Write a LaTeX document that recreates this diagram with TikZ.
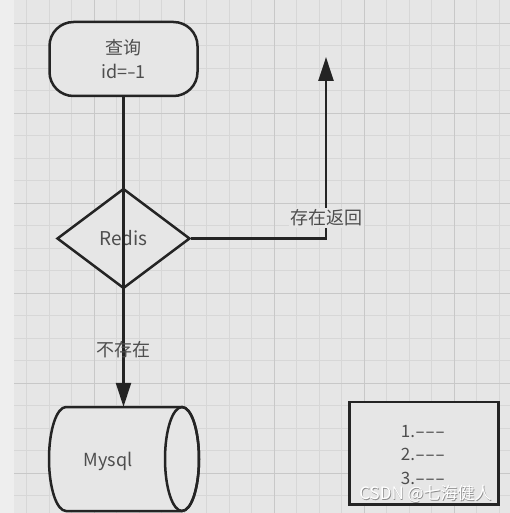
\documentclass[tikz,border=0pt]{standalone}
\usepackage{fontspec}
\setmainfont{Noto Sans CJK SC}
\usetikzlibrary{arrows.meta,shapes.geometric}
\definecolor{bg}{RGB}{230,230,230}
\definecolor{strip}{RGB}{238,238,238}
\definecolor{gridminor}{RGB}{215,215,215}
\definecolor{gridmajor}{RGB}{200,200,200}
\definecolor{ink}{RGB}{36,36,36}
\definecolor{txt}{RGB}{78,78,78}
\newcommand{\longhy}{\scalebox{1.7}[1]{-}}
\tikzset{
  shapebox/.style={draw=ink, line width=2.5pt, fill=bg, inner sep=0pt, text=txt,
    font=\fontsize{18}{24}\selectfont, align=center},
  conn/.style={draw=ink, line width=2.5pt},
  tip/.style={-{Triangle[length=24pt,width=15pt]}},
  lbl/.style={text=txt, font=\fontsize{18}{22}\selectfont, inner sep=1.5pt},
}
\begin{document}
\begin{tikzpicture}[x=1pt,y=-1pt]
\useasboundingbox (0,0) rectangle (510,513);
% background and grid
\fill[strip] (0,0) rectangle (510,513);
\fill[bg] (14,0) rectangle (510,513);
\foreach \k [evaluate=\k as \xx using 26.7+22.5*\k] in {0,...,21}
  \draw[gridminor, line width=1pt] (\xx,0) -- (\xx,513);
\foreach \k [evaluate=\k as \yy using 23.3+22.5*\k] in {0,...,21}
  \draw[gridminor, line width=1pt] (14,\yy) -- (510,\yy);
\foreach \k [evaluate=\k as \xx using 26.7+22.5*\k] in {3,7,11,15,19}
  \draw[gridmajor, line width=1.2pt] (\xx,0) -- (\xx,513);
\foreach \k [evaluate=\k as \yy using 23.3+22.5*\k] in {0,4,8,12,16,20}
  \draw[gridmajor, line width=1.2pt] (14,\yy) -- (510,\yy);

% start node
\node[shapebox, rounded corners=24pt, minimum width=148pt, minimum height=74pt] (q) at (123.5,59) {查询\\id=\scalebox{1.4}[1]{-}1};
% decision
\node[shapebox, diamond, minimum width=133pt, minimum height=100pt, font=\fontsize{19}{24}\selectfont] (r) at (123.5,238.5) {Redis};
% database cylinder
\draw[draw=ink, line width=2.5pt, fill=bg] (182,407) -- (66,407)
  arc[start angle=270, end angle=90, x radius=17, y radius=52] -- (182,511)
  arc[start angle=90, end angle=-90, x radius=17, y radius=52] -- cycle;
\draw[draw=ink, line width=2.5pt] (182,459) ellipse[x radius=17, y radius=52];
\node[minimum width=150pt, minimum height=104pt, inner sep=0pt] (m) at (123.5,459) {};
\node[text=txt, font=\fontsize{18}{22}\selectfont, inner sep=0pt] (mt) at (108,461) {Mysql};
% list box
\node[shapebox, minimum width=149pt, minimum height=102.5pt] (b) at (424.2,453.2) {};
\node[text=txt, font=\fontsize{17}{23.5}\selectfont, align=center, inner sep=0pt] (bt) at (423,455) {1.\longhy\longhy\longhy\\2.\longhy\longhy\longhy\\3.\longhy\longhy\longhy};

% connectors
\coordinate (up) at (326,57);
\draw[conn, tip] (q.south) -- (m.north);
\draw[conn, tip] (r.east) -| (up);
\node[lbl, fill=bg] (l1) at (326,218) {存在返回};
\node[lbl] (l2) at (123.5,350) {不存在};

% watermark
\node[text=black!45, font=\fontsize{17}{20}\selectfont, inner sep=0pt] (wm0) at (426.2,494.6) {CSDN @七海健人};
\node[text=white, font=\fontsize{17}{20}\selectfont, inner sep=0pt] (wm) at (425.5,494) {CSDN @七海健人};
\end{tikzpicture}
\end{document}
